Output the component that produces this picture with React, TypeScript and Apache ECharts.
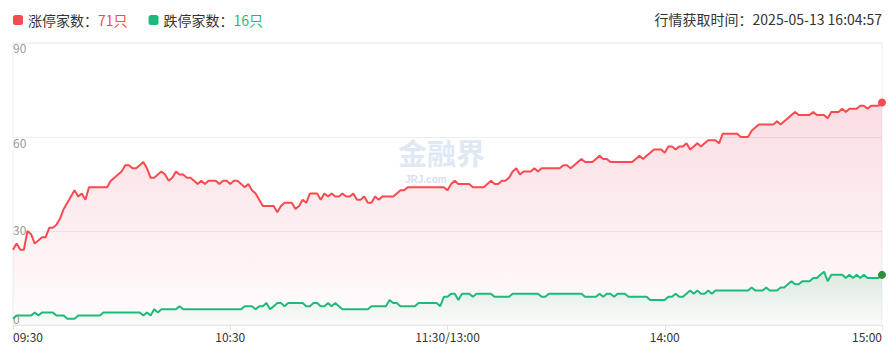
import React, { useEffect, useRef } from 'react';
import * as echarts from 'echarts';

// 涨停家数 per minute (09:30 - 11:30, 13:01 - 15:00)
const limitUp = [
  24, 26, 24, 24, 30, 29, 26, 27, 28, 28,
  31, 31, 32, 34, 37, 39, 41, 43, 41, 42,
  40, 44, 44, 44, 44, 44, 44, 46, 47, 48,
  49, 51, 51, 50, 50, 51, 52, 50, 47, 47,
  48, 49, 48, 46, 47, 49, 48, 48, 47, 47,
  46, 45, 46, 45, 46, 46, 46, 45, 46, 46,
  45, 46, 46, 45, 44, 45, 43, 42, 40, 38,
  38, 38, 38, 36, 38, 39, 39, 39, 37, 38,
  40, 39, 42, 42, 42, 40, 42, 41, 42, 41,
  41, 42, 41, 41, 42, 40, 40, 41, 39, 39,
  41, 40, 41, 41, 41, 41, 42, 43, 43, 44,
  44, 44, 44, 44, 44, 44, 44, 44, 44, 44,
  43, 45, 46, 45, 45, 45, 45, 44, 44, 44,
  44, 45, 46, 45, 45, 46, 46, 47, 49, 50,
  48, 49, 49, 49, 50, 49, 50, 50, 50, 50,
  50, 50, 51, 51, 50, 51, 52, 53, 52, 52,
  52, 53, 54, 53, 53, 52, 52, 52, 52, 52,
  52, 52, 53, 54, 53, 54, 55, 56, 56, 56,
  55, 57, 57, 56, 57, 57, 58, 56, 57, 58,
  57, 58, 59, 59, 59, 58, 61, 61, 61, 61,
  61, 60, 60, 60, 62, 63, 64, 64, 64, 64,
  64, 65, 64, 65, 66, 67, 68, 67, 67, 67,
  67, 68, 67, 67, 67, 66, 68, 68, 68, 69,
  68, 69, 69, 69, 70, 70, 69, 70, 70, 70,
  71,
];

// 跌停家数 per minute
const limitDown = [
  2, 3, 3, 3, 3, 3, 4, 3, 4, 4,
  4, 4, 3, 3, 3, 2, 2, 2, 3, 3,
  3, 3, 3, 3, 3, 4, 4, 4, 4, 4,
  4, 4, 4, 4, 4, 4, 3, 4, 3, 5,
  4, 5, 5, 5, 5, 5, 6, 5, 5, 5,
  5, 5, 5, 5, 5, 5, 5, 5, 5, 5,
  5, 5, 5, 5, 6, 6, 6, 5, 6, 6,
  7, 5, 6, 7, 7, 6, 7, 7, 7, 7,
  7, 6, 6, 7, 7, 6, 6, 7, 6, 7,
  6, 5, 5, 5, 5, 5, 5, 5, 5, 6,
  6, 6, 6, 6, 8, 7, 7, 6, 6, 6,
  6, 6, 7, 7, 7, 7, 7, 7, 6, 9,
  9, 10, 10, 8, 10, 10, 10, 9, 10, 10,
  10, 10, 10, 9, 9, 9, 9, 9, 10, 10,
  10, 10, 10, 10, 10, 10, 9, 9, 10, 10,
  10, 10, 10, 10, 10, 10, 10, 10, 9, 9,
  9, 9, 10, 9, 10, 10, 9, 10, 10, 10,
  9, 9, 9, 9, 9, 9, 8, 8, 8, 8,
  8, 9, 9, 10, 9, 9, 10, 11, 10, 11,
  10, 10, 11, 10, 11, 11, 11, 11, 11, 11,
  11, 11, 11, 11, 12, 11, 11, 11, 12, 11,
  11, 11, 12, 12, 13, 14, 13, 13, 14, 14,
  14, 15, 15, 16, 17, 14, 16, 16, 16, 16,
  15, 16, 15, 16, 15, 16, 15, 15, 15, 15,
  16,
];

const tickIndices = [0, 60, 120, 180, 240];
const tickLabels = ['09:30', '10:30', '11:30/13:00', '14:00', '15:00'];
const yTicks = [0, 30, 60, 90];
const upLabel = '涨停家数';
const downLabel = '跌停家数';
const upCount = '71只';
const downCount = '16只';
const fetchTime = '行情获取时间：2025-05-13 16:04:57';
const watermark = '金融界';
const watermarkSub = 'JRJ.com';

const RED = '#f84a4f';
const GREEN = '#1fba7a';
const FONT = '"Noto Sans CJK SC", "Noto Sans", sans-serif';

function buildTimes(): string[] {
  const out: string[] = [];
  const pad = (n: number) => (n < 10 ? '0' + n : '' + n);
  for (let m = 9 * 60 + 30; m <= 11 * 60 + 30; m++) out.push(pad(Math.floor(m / 60)) + ':' + pad(m % 60));
  for (let m = 13 * 60 + 1; m <= 15 * 60; m++) out.push(pad(Math.floor(m / 60)) + ':' + pad(m % 60));
  return out;
}

export default function App() {
  const ref = useRef<HTMLDivElement>(null);

  useEffect(() => {
    if (!ref.current) return;
    const chart = echarts.init(ref.current, undefined, { renderer: 'svg' });
    const times = buildTimes();
    const last = limitUp.length - 1;
    const upData: any[] = limitUp.map((v, i) =>
      i === last ? { value: v, symbol: 'circle', symbolSize: 8, itemStyle: { color: RED } } : v
    );
    const downData: any[] = limitDown.map((v, i) =>
      i === last ? { value: v, symbol: 'circle', symbolSize: 8, itemStyle: { color: '#2b8f3c' } } : v
    );
    const isTick = (i: number) => tickIndices.indexOf(i) >= 0;

    chart.setOption({
      animation: false,
      textStyle: { fontFamily: FONT },
      legend: {
        left: 8,
        top: 8,
        itemWidth: 10,
        itemHeight: 10,
        itemGap: 21,
        icon: 'roundRect',
        selectedMode: false,
        data: [
          { name: upLabel, itemStyle: { color: RED } },
          { name: downLabel, itemStyle: { color: GREEN } },
        ],
        formatter: (name: string) =>
          name === upLabel ? `{n|${upLabel}：}{r|${upCount}}` : `{n|${downLabel}：}{g|${downCount}}`,
        textStyle: {
          fontFamily: FONT,
          rich: {
            n: { fontSize: 14, color: '#333', fontFamily: FONT },
            r: { fontSize: 14, color: RED, fontFamily: FONT },
            g: { fontSize: 14, color: GREEN, fontFamily: FONT },
          },
        },
      },
      graphic: [
        {
          type: 'text',
          right: 13,
          top: 12,
          style: { text: fetchTime, fontSize: 14, fill: '#333', fontFamily: FONT },
        },
        {
          type: 'text',
          left: 398,
          top: 137,
          z: 0,
          style: { text: watermark, fontSize: 29, fontWeight: 'bold', fill: '#e0e8f3', fontFamily: FONT },
        },
        {
          type: 'text',
          left: 405,
          top: 174,
          z: 0,
          style: { text: watermarkSub, fontSize: 10, fontWeight: 'bold', fill: '#d6e0ed', fontFamily: 'Arial, sans-serif' },
        },
      ],
      grid: {
        left: 13,
        right: 13,
        top: 43,
        bottom: 38,
        show: true,
        borderColor: '#eeeeee',
        borderWidth: 1,
        backgroundColor: 'transparent',
      },
      xAxis: {
        type: 'category',
        data: times,
        boundaryGap: false,
        axisLine: { show: true, lineStyle: { color: '#e6e6e6' } },
        axisTick: { show: true, interval: (i: number) => isTick(i), length: 5, lineStyle: { color: '#e0e0e0' } },
        axisLabel: {
          interval: (i: number) => isTick(i),
          formatter: (_v: string, i: number) => tickLabels[tickIndices.indexOf(i)] || '',
          color: '#333',
          fontSize: 12,
          margin: 5,
          fontFamily: FONT,
          showMinLabel: true,
          showMaxLabel: true,
          alignMinLabel: 'left',
          alignMaxLabel: 'right',
        },
        splitLine: { show: false },
      },
      yAxis: {
        type: 'value',
        min: 0,
        max: 90,
        interval: 30,
        axisLine: { show: false },
        axisTick: { show: false },
        splitLine: { show: true, lineStyle: { color: '#eeeeee' } },
        axisLabel: {
          inside: true,
          margin: 0,
          color: '#999',
          fontSize: 12,
          fontFamily: FONT,
          formatter: (v: number) => {
            const k = yTicks.indexOf(v);
            return ['{d|', '{c|', '{b|', '{a|'][k] + v + '}';
          },
          rich: {
            a: { padding: [9, 0, 0, 0], color: '#999', fontSize: 12 },
            b: { padding: [10, 0, 0, 0], color: '#999', fontSize: 12 },
            c: { padding: [0, 0, 3, 0], color: '#999', fontSize: 12 },
            d: { padding: [0, 0, 13, 0], color: '#999', fontSize: 12 },
          },
        },
      },
      series: [
        {
          name: upLabel,
          type: 'line',
          data: upData,
          symbol: 'none',
          showSymbol: true,
          z: 3,
          lineStyle: { color: RED, width: 2 },
          itemStyle: { color: RED },
          areaStyle: {
            color: new echarts.graphic.LinearGradient(0, 0, 0, 1, [
              { offset: 0, color: 'rgba(232, 80, 108, 0.28)' },
              { offset: 1, color: 'rgba(232, 80, 108, 0.02)' },
            ]),
          },
        },
        {
          name: downLabel,
          type: 'line',
          data: downData,
          symbol: 'none',
          showSymbol: true,
          z: 4,
          lineStyle: { color: GREEN, width: 2 },
          itemStyle: { color: GREEN },
          areaStyle: {
            color: new echarts.graphic.LinearGradient(0, 0, 0, 1, [
              { offset: 0, color: 'rgba(31, 170, 100, 0.22)' },
              { offset: 1, color: 'rgba(31, 170, 100, 0.02)' },
            ]),
          },
        },
      ],
    });

    return () => chart.dispose();
  }, []);

  return (
    <div
      ref={ref}
      style={{ position: 'fixed', left: 0, top: 0, width: 895, height: 363, background: '#fff' }}
    />
  );
}
